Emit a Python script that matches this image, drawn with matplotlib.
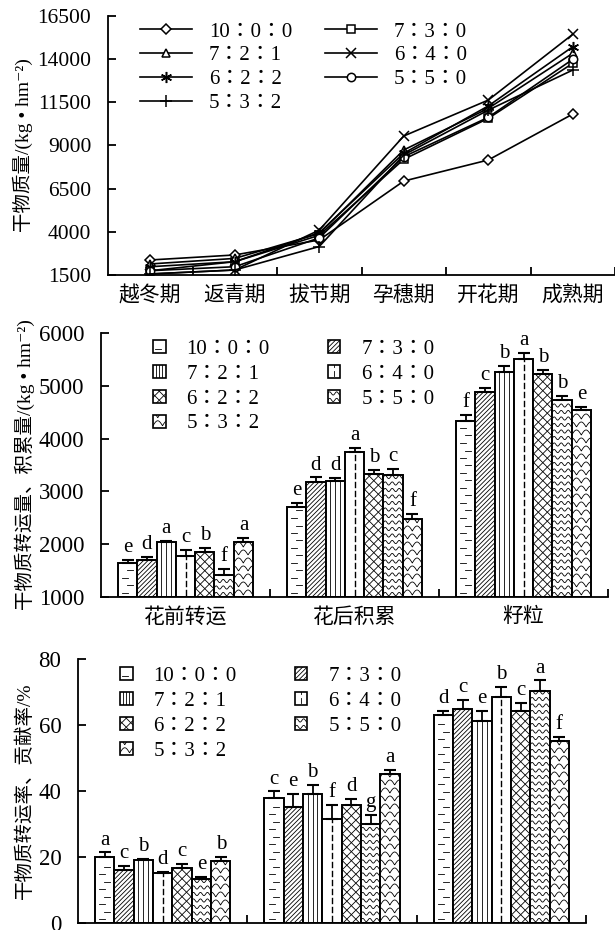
import numpy as np
import matplotlib
matplotlib.use("Agg")
import matplotlib.pyplot as plt
from matplotlib.patches import Patch, Rectangle
from matplotlib.lines import Line2D
from matplotlib.legend_handler import HandlerBase

plt.rcParams['font.family'] = ['Liberation Serif', 'Noto Sans CJK SC', 'DejaVu Sans']
plt.rcParams['axes.unicode_minus'] = False

DPI = 100
W, H = 615, 930
LEG_FONT = ['Liberation Serif', 'Noto Sans CJK JP']  # centred full-width colons

# ---- data ----
ratios = ['10：0：0', '7：3：0', '7：2：1', '6：4：0', '6：2：2', '5：5：0', '5：3：2']
stages = ['越冬期', '返青期', '拔节期', '孕穗期', '开花期', '成熟期']

dm_10_0_0 = [2370, 2660, 3530, 6940, 8160, 10820]
dm_7_3_0 = [1750, 2270, 3800, 8200, 10570, 13760]
dm_7_2_1 = [2140, 2460, 3900, 8740, 11150, 14340]
dm_6_4_0 = [1560, 1790, 4100, 9550, 11630, 15440]
dm_6_2_2 = [1980, 2270, 3950, 8550, 11290, 14720]
dm_5_5_0 = [1750, 1980, 3650, 8350, 10630, 13990]
dm_5_3_2 = [1560, 1790, 3150, 8450, 11050, 13370]

amount_groups = ['花前转运', '花后积累', '籽粒']
pre_transfer = [1640, 1705, 2040, 1780, 1850, 1410, 2040]
pre_transfer_err = [60, 60, 20, 110, 75, 120, 75]
pre_transfer_sig = ['e', 'd', 'a', 'c', 'b', 'f', 'a']
post_accum = [2710, 3185, 3200, 3740, 3325, 3310, 2480]
post_accum_err = [75, 80, 50, 90, 80, 110, 90]
post_accum_sig = ['e', 'd', 'd', 'a', 'b', 'c', 'f']
grain = [4340, 4885, 5265, 5515, 5230, 4740, 4540]
grain_err = [105, 75, 105, 105, 75, 65, 65]
grain_sig = ['f', 'c', 'b', 'a', 'b', 'b', 'e']

transfer_rate = [20.0, 16.0, 19.2, 15.2, 16.6, 13.3, 18.7]
transfer_rate_err = [1.4, 1.2, 0.2, 0.2, 1.4, 0.6, 1.3]
transfer_rate_sig = ['a', 'c', 'b', 'd', 'c', 'e', 'b']
contrib_pre = [37.9, 35.1, 39.2, 31.6, 35.9, 30.0, 45.3]
contrib_pre_err = [2.0, 4.1, 2.6, 4.2, 1.8, 2.7, 1.2]
contrib_pre_sig = ['c', 'e', 'b', 'f', 'd', 'g', 'a']
contrib_post = [63.1, 65.0, 61.1, 68.4, 64.3, 70.2, 55.1]
contrib_post_err = [1.2, 2.5, 3.2, 3.1, 2.5, 3.3, 1.3]
contrib_post_sig = ['d', 'c', 'e', 'b', 'c', 'a', 'f']

markers = ['D', 's', '^', 'x', (6, 2, 0), 'o', '+']
msizes = [5, 6, 6, 7, 8, 6, 9]


def pattern_lines(kind, x0, y0, x1, y1):
    """Pattern segments for one box, in pixel units."""
    w, h = x1 - x0, y1 - y0
    out = []
    if kind == 0:  # short staggered dashes
        y, k = y0 + 4, 0
        while y < y1 - 2:
            xc = x0 + w * (0.38 if k % 2 == 0 else 0.62)
            out.append(([xc - 3, xc + 3], [y, y]))
            y += 7.5
            k += 1
    elif kind == 1:  # diagonal lines
        s = 4.5
        c = y0 - x1
        while c < y1 - x0:
            out.append(([x0, x1], [x0 + c, x1 + c]))
            c += s
    elif kind == 2:  # vertical lines
        for f in (0.25, 0.5, 0.75):
            out.append(([x0 + w * f] * 2, [y0, y1]))
    elif kind == 3:  # dashed centre line
        y = y0 + 2
        while y < y1:
            out.append(([x0 + w / 2] * 2, [y, min(y + 5, y1)]))
            y += 9
    elif kind == 4:  # diamond cross-hatch
        s = 9.0
        c = y0 - x1
        while c < y1 - x0 + s:
            out.append(([x0, x1], [x0 + c, x1 + c]))
            c += s
        c = y0 + x0
        while c < y1 + x1 + s:
            out.append(([x0, x1], [c - x0, c - x1]))
            c += s
    elif kind == 5:  # waves
        xs = np.linspace(x0, x1, 40)
        y = y0 + 3
        while y < y1:
            out.append((xs, y + 1.6 * np.sin(2 * np.pi * (xs - x0) / 7.0)))
            y += 6.5
    elif kind == 6:  # scallops
        xs = np.linspace(x0, x1, 60)
        y, k = y0 + 2, 0
        while y < y1 + 5:
            off = 0 if k % 2 == 0 else 4.75
            out.append((xs, y + 5 * np.abs(np.sin(np.pi * (xs - x0 - off) / 9.5))))
            y += 8
            k += 1
    return out


def hatch_bars(ax, bars, kind):
    inv = ax.transData.inverted()
    lw = 1.0 if kind == 3 else 0.6
    for b in bars:
        ext = b.get_window_extent()
        for xs, ys in pattern_lines(kind, ext.x0, ext.y0, ext.x1, ext.y1):
            pts = inv.transform(np.column_stack([xs, ys]))
            ln = Line2D(pts[:, 0], pts[:, 1], color='k', lw=lw, zorder=2.5)
            ax.add_line(ln)
            ln.set_clip_path(b)  # after add_line, which resets clipping


class PatternHandler(HandlerBase):
    def __init__(self, kind):
        super().__init__()
        self.kind = kind

    def create_artists(self, legend, orig_handle, xdescent, ydescent,
                       width, height, fontsize, trans):
        x0, y0 = -xdescent, -ydescent
        rect = Rectangle((x0, y0), width, height, fc='white', ec='k',
                         lw=1.2, transform=trans)
        arts = [rect]
        s = DPI / 72.0
        for xs, ys in pattern_lines(self.kind, x0 * s, y0 * s,
                                    (x0 + width) * s, (y0 + height) * s):
            ln = Line2D(np.asarray(xs) / s, np.asarray(ys) / s, color='k',
                        lw=0.6, transform=trans)
            ln.set_clip_path(rect)
            arts.append(ln)
        return arts


def frac(left, top, right, bottom):
    return [left / W, 1 - bottom / H, (right - left) / W, (bottom - top) / H]


def style_axes(ax, fs):
    for sp in ('top', 'right'):
        ax.spines[sp].set_visible(False)
    for sp in ('left', 'bottom'):
        ax.spines[sp].set_linewidth(1.3)
    ax.tick_params(axis='y', direction='in', length=6, width=1.3,
                   labelsize=fs, pad=12)
    ax.tick_params(axis='x', which='major', direction='in', length=6,
                   width=1.3, labelbottom=False)
    ax.tick_params(axis='x', which='minor', length=0, labelsize=15, pad=8)


legend_order = [0, 2, 4, 6, 1, 3, 5]

fig = plt.figure(figsize=(W / DPI, H / DPI), dpi=DPI)

# ---- top: dry matter accumulation ----
ax1 = fig.add_axes(frac(108, 16, 615, 275))
series = [dm_10_0_0, dm_7_3_0, dm_7_2_1, dm_6_4_0, dm_6_2_2, dm_5_5_0, dm_5_3_2]
xpos = np.arange(len(stages)) + 0.5
lines = []
for i, vals in enumerate(series):
    ln, = ax1.plot(xpos, vals, color='k', lw=1.2, marker=markers[i],
                   ms=msizes[i], mfc='white', mec='k', mew=1.1,
                   label=ratios[i])
    lines.append(ln)
ax1.set_xlim(0, len(stages))
ax1.set_ylim(1500, 16500)
ax1.set_yticks(np.arange(1500, 16501, 2500))
ax1.set_xticks(np.arange(1, len(stages) + 1))
ax1.set_xticks(xpos, minor=True)
ax1.set_xticklabels(stages, minor=True)
style_axes(ax1, 15.5)
ax1.set_ylabel('干物质量/(kg • hm⁻²)', fontsize=14, labelpad=3)
ax1.legend([lines[i] for i in legend_order], [ratios[i] for i in legend_order],
           ncol=2, frameon=False, prop={'family': LEG_FONT, 'size': 15},
           loc='upper left',
           bbox_to_anchor=(140 / W, 1 - 22 / H), bbox_transform=fig.transFigure,
           borderpad=0, borderaxespad=0, handlelength=2.5, handletextpad=0.8,
           columnspacing=1.6, labelspacing=0.2)

# ---- bar panels ----
def bar_panel(rect, groups, vals_list, err_list, sig_list, ylim, yticks,
              ylabel, show_names, legend_top):
    ax = fig.add_axes(frac(*rect))
    ax.set_xlim(0, len(vals_list))
    ax.set_ylim(*ylim)
    ax.set_autoscale_on(False)
    n = len(ratios)
    bw = 0.8 / n
    offs = (np.arange(n) - (n - 1) / 2) * bw
    centers = np.arange(len(vals_list)) + 0.5
    for k in range(n):
        xs = centers + offs[k]
        hs = [v[k] for v in vals_list]
        es = [e[k] for e in err_list]
        base = ylim[0]
        bars = ax.bar(xs, np.array(hs) - base, bottom=base, width=bw,
                      color='white', edgecolor='k', linewidth=1.4, zorder=2)
        ax.errorbar(xs, hs, yerr=[np.zeros(len(es)), es], fmt='none',
                    ecolor='k', elinewidth=1.3, capsize=4.5, capthick=1.5,
                    zorder=3)
        for j in range(len(xs)):
            ax.annotate(sig_list[j][k], (xs[j], hs[j] + es[j]),
                        xytext=(0, 2), textcoords='offset points',
                        ha='center', va='bottom', fontsize=15)
        hatch_bars(ax, list(bars), k)
    ax.set_yticks(yticks)
    ax.set_xticks(np.arange(1, len(vals_list) + 1))
    ax.set_xticks(centers, minor=True)
    ax.set_xticklabels(groups if show_names else [''] * len(groups), minor=True)
    style_axes(ax, 16.5)
    ax.set_ylabel(ylabel, fontsize=14, labelpad=3)
    handles = [Patch(fc='white', ec='k') for _ in ratios]
    hmap = {handles[i]: PatternHandler(i) for i in range(n)}
    ax.legend([handles[i] for i in legend_order], [ratios[i] for i in legend_order],
              handler_map=hmap, ncol=2, frameon=False,
              prop={'family': LEG_FONT, 'size': 15},
              loc='upper left', bbox_to_anchor=legend_top,
              bbox_transform=fig.transFigure, borderpad=0, borderaxespad=0,
              handlelength=0.6, handleheight=0.6, handletextpad=1.0,
              columnspacing=2.8, labelspacing=0.28)
    return ax


bar_panel((101, 333, 608, 597),
          amount_groups, [pre_transfer, post_accum, grain],
          [pre_transfer_err, post_accum_err, grain_err],
          [pre_transfer_sig, post_accum_sig, grain_sig],
          (1000, 6000), np.arange(1000, 6001, 1000),
          '干物质转运量、积累量/(kg • hm⁻²)', True,
          (153 / W, 1 - 340 / H))

bar_panel((78, 659, 586, 923),
          amount_groups, [transfer_rate, contrib_pre, contrib_post],
          [transfer_rate_err, contrib_pre_err, contrib_post_err],
          [transfer_rate_sig, contrib_pre_sig, contrib_post_sig],
          (0, 80), np.arange(0, 81, 20),
          '干物质转运率、贡献率/%', False,
          (120 / W, 1 - 667 / H))

fig.savefig('out.png', dpi=DPI)
